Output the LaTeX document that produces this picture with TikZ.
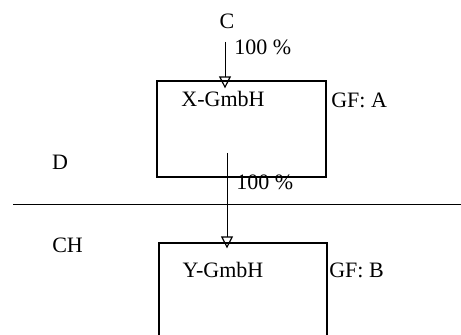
\documentclass[tikz,border=0pt]{standalone}
\usepackage{fontspec}
\setmainfont{Liberation Serif}
\usetikzlibrary{arrows.meta,positioning}

\begin{document}
\begin{tikzpicture}[x=0.75pt,y=-0.75pt,font=\fontsize{16.5}{19}\selectfont,
  firm/.style={draw,line width=0.9pt,inner sep=0pt},
  txt/.style={inner sep=0pt},
  own/.style={line width=0.7pt,-{Triangle[open,length=9pt,width=9pt,line width=0.9pt]}}]
\useasboundingbox (0,0) rectangle (461,335);
\clip (0,0) rectangle (461,335);
\node[firm,minimum width=126.75pt,minimum height=72pt] (x) at (241.5,129) {};
\node[firm,minimum width=126pt,minimum height=90pt] (y) at (243,303) {};
\node[txt] (xn) at (223,99) {X-GmbH};
\node[txt] (yn) at (223,270) {Y-GmbH};
\node[txt,anchor=west] (gfa) at (331,100) {GF: A};
\node[txt,anchor=west] (gfb) at (329,270) {GF: B};
\node[txt] (c) at (227,21) {C};
\node[txt] (d) at (60,162) {D};
\node[txt,anchor=west] (ch) at (52,245) {CH};
% border
\coordinate (bl) at (13,204);
\coordinate (br) at (461,204);
\draw[line width=0.7pt] (bl) -- (br);
% shareholdings
\coordinate (cin) at (225,42);
\coordinate (xout) at (227,153);
\draw[own,shorten >=-6pt] (cin) -- (cin |- x.north);
\draw[own,shorten >=-4.5pt] (xout) -- (xout |- y.north);
\node[txt,anchor=west] (p1) at (234,47) {100 \%};
\node[txt,anchor=west] (p2) at (236,182) {100 \%};
\end{tikzpicture}
\end{document}
